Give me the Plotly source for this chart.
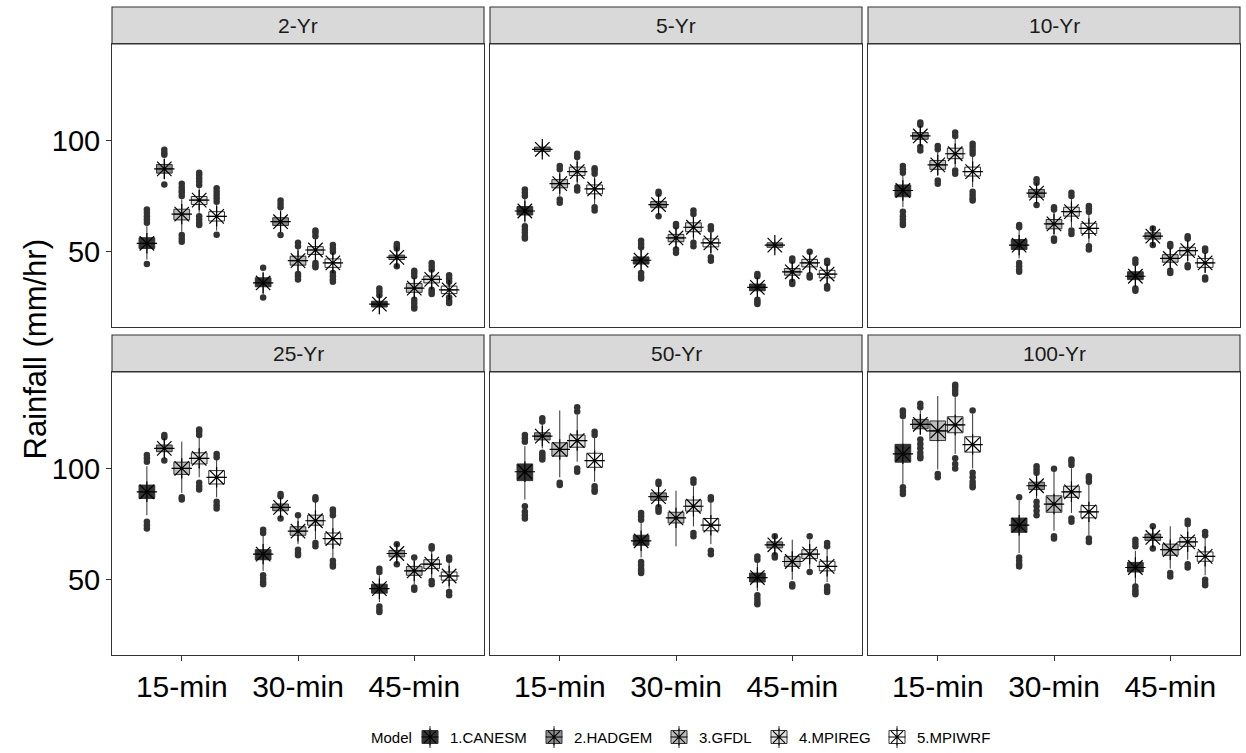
import plotly.graph_objects as go

# ---------------------------------------------------------------- data
PERIODS = ["2-Yr", "5-Yr", "10-Yr", "25-Yr", "50-Yr", "100-Yr"]
DURATIONS = ["15-min", "30-min", "45-min"]
MODELS = ["1.CANESM", "2.HADGEM", "3.GFDL", "4.MPIREG", "5.MPIWRF"]

# box statistics, indexed [duration][model] for every return period
Q1 = {
    "2-Yr":   [[51.5, 85.3, 64.3, 71.2, 63.8], [34.3, 61.8, 44.0, 48.8, 43.0], [25.2, 46.5, 31.8, 36.0, 31.2]],
    "5-Yr":   [[66.5, 95.0, 78.7, 84.2, 76.0], [44.5, 69.8, 54.5, 59.0, 52.2], [32.5, 52.0, 39.5, 43.2, 38.3]],
    "10-Yr":  [[74.7, 100.5, 87.0, 91.8, 84.0], [51.0, 74.5, 60.3, 66.0, 58.2], [37.5, 55.7, 45.3, 48.5, 43.0]],
    "25-Yr":  [[86.5, 107.5, 97.3, 102.0, 93.0], [59.0, 81.0, 70.0, 74.5, 66.0], [44.0, 60.3, 52.0, 55.0, 49.8]],
    "50-Yr":  [[94.5, 112.8, 105.5, 109.5, 100.5], [65.5, 85.7, 75.5, 80.8, 72.0], [49.0, 64.3, 56.0, 59.5, 54.0]],
    "100-Yr": [[102.8, 117.8, 112.5, 116.0, 107.3], [71.3, 90.5, 80.3, 87.0, 77.8], [53.5, 67.7, 61.0, 65.0, 58.3]],
}
MEDIAN = {
    "2-Yr":   [[53.8, 87.2, 66.9, 73.2, 65.9], [36.0, 63.5, 46.0, 50.8, 45.0], [26.5, 47.5, 33.7, 37.6, 32.9]],
    "5-Yr":   [[68.3, 96.0, 80.6, 86.0, 78.2], [46.2, 71.2, 56.2, 61.0, 54.0], [34.0, 53.0, 41.0, 45.0, 40.0]],
    "10-Yr":  [[77.5, 102.0, 89.0, 94.0, 86.0], [53.0, 76.3, 62.5, 68.0, 60.5], [39.0, 57.0, 47.0, 50.5, 45.0]],
    "25-Yr":  [[89.5, 109.0, 100.0, 104.5, 96.0], [61.5, 82.5, 71.8, 76.5, 68.5], [46.0, 61.8, 54.0, 57.0, 51.7]],
    "50-Yr":  [[98.5, 114.5, 108.5, 112.5, 103.5], [67.5, 87.3, 77.8, 83.0, 74.5], [51.0, 65.7, 58.2, 61.5, 56.0]],
    "100-Yr": [[106.5, 119.8, 116.8, 119.5, 110.7], [74.5, 92.2, 84.0, 89.5, 80.5], [55.5, 69.0, 63.5, 67.0, 60.5]],
}
Q3 = {
    "2-Yr":   [[56.3, 89.2, 69.1, 74.8, 68.0], [38.3, 65.3, 48.0, 52.3, 46.8], [27.8, 48.5, 35.8, 39.1, 34.6]],
    "5-Yr":   [[70.3, 97.0, 82.4, 88.0, 80.0], [47.7, 72.6, 57.8, 63.0, 55.8], [35.5, 54.0, 42.5, 46.6, 41.7]],
    "10-Yr":  [[80.0, 103.5, 91.0, 96.5, 88.0], [55.5, 78.0, 64.5, 70.0, 62.8], [41.0, 58.5, 48.7, 52.0, 47.0]],
    "25-Yr":  [[92.5, 110.5, 102.8, 107.0, 99.0], [63.5, 84.0, 73.8, 79.0, 71.0], [48.0, 63.2, 56.0, 59.0, 53.5]],
    "50-Yr":  [[102.0, 116.0, 111.5, 115.0, 106.8], [70.0, 89.0, 80.3, 85.8, 77.5], [53.0, 67.0, 60.5, 63.5, 58.3]],
    "100-Yr": [[110.8, 122.0, 121.3, 123.2, 114.2], [77.7, 93.8, 87.7, 92.0, 83.3], [57.8, 70.5, 66.0, 69.0, 62.5]],
}
LOWER = {
    "2-Yr":   [[46.5, 82.5, 59.0, 67.5, 59.5], [31.0, 58.5, 41.0, 46.0, 41.5], [22.0, 44.5, 29.5, 33.5, 30.0]],
    "5-Yr":   [[63.0, 93.0, 75.0, 80.0, 71.0], [42.0, 67.5, 52.0, 55.0, 49.0], [30.0, 50.5, 37.5, 40.5, 36.0]],
    "10-Yr":  [[70.0, 98.5, 84.0, 88.0, 79.0], [47.0, 72.0, 57.5, 61.0, 54.0], [35.0, 54.0, 43.0, 45.5, 41.0]],
    "25-Yr":  [[79.0, 105.0, 89.0, 96.0, 87.0], [54.0, 79.0, 66.0, 68.0, 60.0], [40.0, 58.0, 48.0, 50.5, 46.0]],
    "50-Yr":  [[86.0, 109.0, 96.0, 103.0, 94.0], [60.0, 84.0, 65.0, 74.0, 66.0], [45.0, 62.5, 50.0, 55.0, 49.0]],
    "100-Yr": [[93.0, 115.0, 99.5, 106.5, 100.0], [62.0, 86.5, 72.0, 80.0, 70.0], [48.0, 65.0, 55.0, 59.0, 52.0]],
}
UPPER = {
    "2-Yr":   [[61.5, 91.8, 73.5, 78.5, 71.3], [41.0, 68.5, 51.5, 56.0, 49.0], [29.5, 50.5, 38.0, 41.0, 35.8]],
    "5-Yr":   [[74.0, 98.5, 86.0, 91.5, 84.0], [51.0, 75.0, 60.5, 66.0, 59.0], [38.0, 55.0, 45.0, 49.0, 44.0]],
    "10-Yr":  [[84.0, 106.0, 95.0, 101.0, 93.0], [60.0, 80.0, 68.0, 74.0, 67.0], [44.0, 59.5, 51.5, 55.0, 49.5]],
    "25-Yr":  [[101.0, 113.0, 112.0, 114.0, 104.0], [70.0, 86.5, 78.0, 85.0, 78.0], [52.0, 65.0, 59.0, 63.0, 58.0]],
    "50-Yr":  [[110.0, 120.0, 126.0, 124.0, 114.0], [76.0, 92.0, 90.0, 92.0, 85.0], [58.0, 68.5, 68.0, 68.0, 64.0]],
    "100-Yr": [[122.0, 126.0, 132.5, 132.0, 124.5], [85.5, 96.5, 98.5, 100.0, 93.0], [63.0, 73.0, 74.0, 74.0, 69.0]],
}
OUTLIERS = {
    "2-Yr": [
        [[44.5, 63, 64.5, 66, 67.5, 69], [80.2, 93.5, 94.5, 95.8], [54.5, 56, 57.5, 75, 76.5, 77.5, 79, 80.5],
         [62, 63, 64.5, 66, 80, 81.5, 83, 84.5, 85.5], [57.6, 72.5, 74, 75.5, 77, 78.5]],
        [[29.5, 42.8], [57.5, 70, 71.5, 73], [37.5, 39, 40, 52.5, 54],
         [43, 44, 45, 57, 58.5, 59.5], [36.5, 37.5, 39, 40.5, 50, 51.5, 53]],
        [[30.5, 32, 33.5], [43.5, 51.5, 52.5, 53.5], [24.5, 25.5, 27, 28.5, 39, 40.5, 41.5],
         [31, 32, 33, 42, 43.5, 45], [27, 28, 29.5, 36.5, 38, 39.5]],
    ],
    "5-Yr": [
        [[56, 57, 58.5, 60, 61.5, 75, 76.5, 78], [], [72, 73.5, 87, 88.5],
         [77.5, 79, 92.5, 94], [68.5, 70, 85, 86.5, 87.5]],
        [[38, 39, 40.5, 52, 53.5, 55], [66, 76, 77], [49.5, 51, 61.5, 62.5],
         [52.5, 54, 67, 68.5], [46, 47.5, 60, 61.5]],
        [[26.5, 27.5, 28.5, 39, 40], [], [35.5, 36.5, 46, 47],
         [38.5, 39.5, 50], [33.5, 34.5, 45, 46]],
    ],
    "10-Yr": [
        [[62, 63, 64.5, 66, 68, 85.5, 87, 88.5], [95.5, 97, 107, 108], [80.5, 82, 96, 97.5],
         [85, 86.5, 102, 103.5], [73, 74, 75.5, 77, 94, 95.5, 97, 98.5]],
        [[41, 42, 43.5, 45, 61, 62], [71, 81, 82.5], [55, 56, 69, 70],
         [58, 59.5, 75, 76.5], [51, 52.5, 68, 69.5, 70.5]],
        [[32.5, 33.5, 45, 46.5], [53, 60.5], [40.5, 41.5, 52.5, 53.5],
         [43, 44, 56, 57], [37.5, 38.5, 50.5, 51.5]],
    ],
    "25-Yr": [
        [[73, 74.5, 76, 103, 104.5, 106], [103.5, 114, 115], [86, 87],
         [90.5, 92, 93.5, 115, 116.5, 117.5], [82, 83.5, 85, 105, 106.5]],
        [[48, 49, 50.5, 52, 71, 72.5], [77.5, 87.5, 88.5], [61, 62, 63.5, 79],
         [65, 66.5, 86, 87], [56, 57, 58.5, 79, 80.5, 81.5]],
        [[35.5, 36.5, 38, 53.5, 55], [57, 66], [45.5, 46.5, 60],
         [48, 49.5, 64, 65], [43, 44.5, 59, 60]],
    ],
    "50-Yr": [
        [[77.5, 79, 80.5, 83, 112, 113.5, 115], [104, 105, 106, 107, 121, 122.5], [92.5, 93.5],
         [98.5, 100, 125.5, 127.5], [89.5, 90.5, 92, 115, 116.5]],
        [[53, 54, 55, 56.5, 58, 77, 78.5, 80], [80.5, 81.5, 82.5, 93, 94], [],
         [69.5, 71, 93.5, 95], [61.5, 63, 86, 87]],
        [[39, 40, 41.5, 43, 59, 60.5], [60, 61, 69.5], [47, 48],
         [53.5, 69.5], [44.5, 45.5, 47, 65, 66.5]],
    ],
    "100-Yr": [
        [[88.5, 90, 91.5, 123.5, 125, 126], [104.5, 105.5, 107, 109, 111, 113, 127.5, 129], [96, 97.5],
         [100, 102, 104.5, 133.5, 135, 136.5, 137.5], [91.5, 92.5, 94, 96, 98, 126]],
        [[56, 57, 58.5, 60, 87], [79, 81, 83, 85, 98, 99.5, 101], [68.5, 69.5, 99.8],
         [76, 77.5, 101.5, 103, 104], [67, 68.5, 94, 95.5, 96.5]],
        [[43.5, 44.5, 45.5, 47, 65, 66.5, 68], [64, 74], [51.5, 53],
         [55.5, 57, 75, 76.5], [47.5, 48.5, 50, 70, 71.5]],
    ],
}
Y_TICKS = [50, 100]

# ---------------------------------------------------------------- style
FILLS = ["#333333", "#8D8D8D", "#BDBDBD", "#E0E0E0", "#FFFFFF"]
INK = "#333333"
FONT = "Liberation Sans, Arial, sans-serif"
W, H = 1246, 753
COLS = [(112, 484), (490, 862), (868, 1240)]      # panel x extents, px
ROWS = [(44, 327), (372, 655)]                   # panel y extents, px
STRIP_H = 37
DODGE = 0.75                                     # total dodge width per category
PAD = 0.1                                        # box padding inside a dodge slot

slot = DODGE / len(MODELS)
box_w = slot * (1 - PAD)

# y limits: data range expanded by 5 % on each side
all_vals = []
for p in PERIODS:
    for d in range(len(DURATIONS)):
        all_vals += LOWER[p][d] + UPPER[p][d]
        for o in OUTLIERS[p][d]:
            all_vals += o
lo, hi = min(all_vals), max(all_vals)
span = hi - lo
y_range = [lo - 0.05 * span, hi + 0.05 * span]


def px_x(v):
    return v / W


def px_y(v):
    return 1 - v / H


fig = go.Figure()
layout = dict(
    width=W, height=H, autosize=False,
    margin=dict(l=0, r=0, t=0, b=0),
    paper_bgcolor="white", plot_bgcolor="rgba(0,0,0,0)",
    showlegend=False,
    font=dict(family=FONT, color="black"),
)
shapes, annotations = [], []

for k, period in enumerate(PERIODS):
    r, c = divmod(k, 3)
    xa, ya = f"x{k + 1}", f"y{k + 1}"
    x0, x1 = COLS[c]
    y0, y1 = ROWS[r]

    layout[f"xaxis{k + 1}"] = dict(
        domain=[px_x(x0), px_x(x1)], anchor=ya, range=[0.4, len(DURATIONS) + 0.6],
        tickvals=list(range(1, len(DURATIONS) + 1)), ticktext=DURATIONS,
        showticklabels=(r == 1), ticks="outside" if r == 1 else "",
        ticklen=5, tickwidth=1, tickcolor=INK,
        tickfont=dict(size=30, color="black", family=FONT),
        showgrid=False, zeroline=False, showline=True, mirror=True,
        linecolor=INK, linewidth=1.1, fixedrange=True,
    )
    layout[f"yaxis{k + 1}"] = dict(
        domain=[px_y(y1), px_y(y0)], anchor=xa, range=y_range,
        tickvals=Y_TICKS, showticklabels=(c == 0),
        ticks="outside" if c == 0 else "",
        ticklen=5, tickwidth=1, tickcolor=INK,
        tickfont=dict(size=29, color="black", family=FONT),
        showgrid=False, zeroline=False, showline=True, mirror=True,
        linecolor=INK, linewidth=1.1, fixedrange=True,
    )

    # facet strip
    shapes.append(dict(type="rect", xref="paper", yref="paper",
                       x0=px_x(x0), x1=px_x(x1), y0=px_y(y0 - STRIP_H), y1=px_y(y0),
                       fillcolor="#D9D9D9", line=dict(color=INK, width=1.1), layer="below"))
    annotations.append(dict(text=period, xref="paper", yref="paper",
                            x=px_x((x0 + x1) / 2), y=px_y(y0 - STRIP_H / 2),
                            showarrow=False, xanchor="center", yanchor="middle",
                            font=dict(size=21, color="#1A1A1A", family=FONT)))

    for m, model in enumerate(MODELS):
        offs = (m - (len(MODELS) - 1) / 2) * slot
        xs = [d + 1 + offs for d in range(len(DURATIONS))]
        fig.add_trace(go.Box(
            x=xs,
            q1=[Q1[period][d][m] for d in range(len(DURATIONS))],
            median=[MEDIAN[period][d][m] for d in range(len(DURATIONS))],
            q3=[Q3[period][d][m] for d in range(len(DURATIONS))],
            lowerfence=[LOWER[period][d][m] for d in range(len(DURATIONS))],
            upperfence=[UPPER[period][d][m] for d in range(len(DURATIONS))],
            width=box_w, whiskerwidth=0, boxpoints=False,
            fillcolor=FILLS[m], line=dict(color=INK, width=1),
            name=model, xaxis=xa, yaxis=ya, hoverinfo="skip",
        ))
        ox, oy = [], []
        for d in range(len(DURATIONS)):
            for v in OUTLIERS[period][d][m]:
                ox.append(d + 1 + offs)
                oy.append(v)
        fig.add_trace(go.Scatter(
            x=ox, y=oy, mode="markers", xaxis=xa, yaxis=ya, hoverinfo="skip",
            marker=dict(symbol="circle", size=6.5, color=INK, line=dict(width=0)),
        ))
        fig.add_trace(go.Scatter(
            x=xs, y=[MEDIAN[period][d][m] for d in range(len(DURATIONS))],
            mode="markers", xaxis=xa, yaxis=ya, hoverinfo="skip",
            marker=dict(symbol="asterisk-open", size=17, color="black",
                        line=dict(color="black", width=1.2)),
        ))

# y-axis title
annotations.append(dict(text="Rainfall (mm/hr)", xref="paper", yref="paper",
                        x=px_x(35), y=px_y((ROWS[0][0] + ROWS[1][1]) / 2),
                        textangle=-90, showarrow=False, xanchor="center", yanchor="middle",
                        font=dict(size=31, color="black", family=FONT)))

# legend drawn on a pixel-scaled hidden axis
LEG_Y = 737
LEG_FONT = 15
LEG_KEYS = [430, 554, 679, 779, 897]
layout["xaxis7"] = dict(domain=[0, 1], range=[0, W], visible=False, fixedrange=True, anchor="y7")
layout["yaxis7"] = dict(domain=[0, 1], range=[H, 0], visible=False, fixedrange=True, anchor="x7")
annotations.append(dict(text="Model", xref="x7", yref="y7", x=LEG_KEYS[0] - 16, y=LEG_Y,
                        showarrow=False, xanchor="right", yanchor="middle",
                        font=dict(size=LEG_FONT, color="black", family=FONT)))
for m, model in enumerate(MODELS):
    cx = LEG_KEYS[m]
    shapes.append(dict(type="line", xref="x7", yref="y7", x0=cx, x1=cx,
                       y0=LEG_Y - 11, y1=LEG_Y + 11, line=dict(color=INK, width=1),
                       layer="below"))
    shapes.append(dict(type="rect", xref="x7", yref="y7", x0=cx - 8, x1=cx + 8,
                       y0=LEG_Y - 6.5, y1=LEG_Y + 6.5, fillcolor=FILLS[m],
                       line=dict(color=INK, width=1), layer="below"))
    annotations.append(dict(text=model, xref="x7", yref="y7", x=cx + 18, y=LEG_Y,
                            showarrow=False, xanchor="left", yanchor="middle",
                            font=dict(size=LEG_FONT, color="black", family=FONT)))
fig.add_trace(go.Scatter(
    x=LEG_KEYS, y=[LEG_Y] * len(MODELS), mode="markers", xaxis="x7", yaxis="y7",
    hoverinfo="skip",
    marker=dict(symbol="asterisk-open", size=14, color="black", line=dict(color="black", width=1.1)),
))

layout["shapes"] = shapes
layout["annotations"] = annotations
fig.update_layout(**layout)
fig.write_html("out.html")
